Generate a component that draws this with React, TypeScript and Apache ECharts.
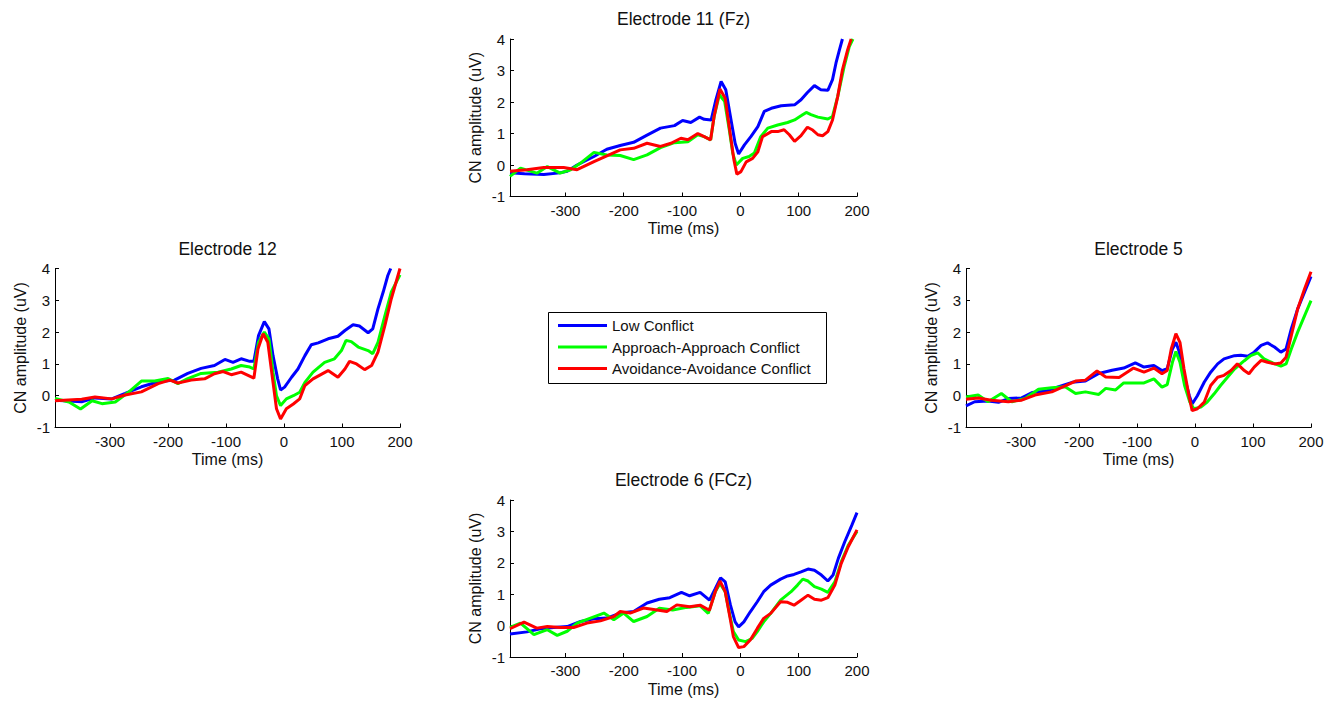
import React, { useEffect, useRef } from 'react';
import * as echarts from 'echarts';

type Pt = [number, number];

// Condition names and their trace colours
const seriesNames = ['Low Conflict', 'Approach-Approach Conflict', 'Avoidance-Avoidance Conflict'];
const seriesColors = ['#0000ff', '#00ff00', '#ff0000'];

// Axis ticks
const timeTicks = [-300, -200, -100, 0, 100, 200];
const timeMin = -395;
const timeMax = 200;
const ampMin = -1;
const ampMax = 4;

const panelTitles = ['Electrode 11 (Fz)', 'Electrode 12', 'Electrode 5', 'Electrode 6 (FCz)'];

// Electrode 11 (Fz): [time ms, amplitude uV]
const fzLow: Pt[] = [[-395,-0.25],[-370,-0.28],[-337,-0.3],[-310,-0.25],[-297,-0.2],[-280,0],[-251,0.27],[-229,0.5],[-206,0.62],[-183,0.72],[-160,0.95],[-137,1.17],[-113,1.25],[-99,1.41],[-85,1.35],[-70,1.52],[-62,1.45],[-50,1.43],[-42,2.07],[-33,2.65],[-25,2.39],[-16,1.43],[-9,0.69],[-3,0.35],[7,0.64],[18,0.9],[30,1.22],[41,1.7],[53,1.8],[70,1.88],[93,1.91],[104,2.07],[115,2.3],[127,2.52],[138,2.39],[150,2.37],[158,2.71],[164,3.24],[170,3.66],[175,4.0]];
const fzApproach: Pt[] = [[-395,-0.36],[-377,-0.1],[-349,-0.26],[-331,-0.05],[-309,-0.26],[-291,-0.15],[-274,0.06],[-251,0.4],[-229,0.32],[-206,0.3],[-183,0.17],[-160,0.32],[-137,0.55],[-113,0.71],[-90,0.74],[-73,0.96],[-62,0.9],[-51,0.8],[-45,1.54],[-36,2.23],[-27,2.02],[-19,1.12],[-13,0.37],[-7,0],[4,0.21],[15,0.27],[24,0.38],[35,0.9],[47,1.17],[64,1.27],[81,1.35],[93,1.43],[104,1.56],[113,1.67],[121,1.6],[133,1.52],[150,1.46],[158,1.54],[167,2.18],[178,3.13],[187,3.77],[193,4.0]];
const fzAvoid: Pt[] = [[-395,-0.2],[-366,-0.15],[-337,-0.08],[-303,-0.08],[-280,-0.15],[-251,0.11],[-229,0.29],[-206,0.48],[-183,0.53],[-160,0.69],[-137,0.59],[-119,0.69],[-102,0.85],[-90,0.8],[-73,1.0],[-62,0.9],[-51,0.8],[-45,1.54],[-35,2.41],[-26,2.12],[-19,1.2],[-11,0.16],[-6,-0.29],[1,-0.21],[10,0.1],[21,0.21],[30,0.42],[38,0.9],[53,1.06],[64,1.06],[75,1.12],[84,0.96],[93,0.75],[104,0.93],[115,1.2],[124,1.11],[133,0.96],[141,0.93],[150,1.06],[158,1.43],[167,2.18],[175,3.02],[184,3.66],[190,4.0]];

// Electrode 12
const e12Low: Pt[] = [[-395,-0.14],[-349,-0.19],[-326,-0.07],[-297,-0.1],[-274,0.07],[-246,0.28],[-217,0.44],[-189,0.49],[-166,0.7],[-143,0.86],[-120,0.95],[-102,1.14],[-88,1.05],[-74,1.16],[-59,1.08],[-52,1.08],[-44,1.89],[-34,2.33],[-26,2.1],[-19,1.26],[-11,0.53],[-6,0.18],[1,0.27],[13,0.58],[24,0.84],[36,1.26],[47,1.6],[59,1.66],[76,1.79],[93,1.87],[105,2.05],[119,2.23],[130,2.19],[145,1.98],[153,2.1],[162,2.73],[171,3.26],[179,3.78],[184,4.0]];
const e12Approach: Pt[] = [[-395,-0.09],[-371,-0.2],[-351,-0.42],[-331,-0.16],[-314,-0.25],[-291,-0.2],[-269,0.1],[-246,0.46],[-223,0.46],[-200,0.54],[-183,0.38],[-166,0.54],[-143,0.7],[-114,0.74],[-91,0.84],[-74,0.95],[-59,0.9],[-52,0.84],[-44,1.68],[-34,2.0],[-26,1.79],[-19,0.74],[-13,0.0],[-6,-0.31],[4,-0.1],[16,0],[27,0.11],[36,0.42],[50,0.74],[70,1.05],[87,1.16],[99,1.42],[107,1.74],[116,1.7],[128,1.53],[145,1.42],[153,1.32],[162,1.68],[174,2.52],[185,3.26],[200,3.8]];
const e12Avoid: Pt[] = [[-395,-0.16],[-349,-0.11],[-326,-0.04],[-297,-0.1],[-274,0.02],[-246,0.12],[-217,0.38],[-197,0.49],[-183,0.4],[-160,0.49],[-137,0.53],[-120,0.69],[-105,0.76],[-91,0.66],[-74,0.74],[-62,0.64],[-52,0.55],[-45,1.47],[-36,1.95],[-28,1.68],[-19,0.42],[-13,-0.41],[-6,-0.73],[4,-0.41],[16,-0.26],[27,-0.1],[36,0.32],[50,0.53],[61,0.64],[76,0.79],[93,0.58],[105,0.84],[113,1.08],[125,1.0],[139,0.82],[151,0.95],[162,1.37],[174,2.21],[185,3.05],[200,4.0]];

// Electrode 5
const e5Low: Pt[] = [[-395,-0.32],[-380,-0.19],[-357,-0.17],[-339,-0.21],[-322,-0.09],[-299,-0.07],[-281,0.1],[-258,0.14],[-235,0.28],[-212,0.42],[-189,0.46],[-166,0.7],[-143,0.8],[-123,0.87],[-103,1.03],[-88,0.9],[-71,0.95],[-57,0.79],[-48,0.85],[-39,1.47],[-33,1.68],[-28,1.42],[-19,0.64],[-10,0.01],[-5,-0.26],[4,0],[16,0.43],[27,0.74],[39,1.0],[50,1.16],[68,1.26],[79,1.27],[91,1.24],[102,1.37],[114,1.58],[125,1.66],[137,1.53],[148,1.37],[157,1.47],[166,2.1],[177,2.73],[189,3.26],[200,3.75]];
const e5Approach: Pt[] = [[-395,-0.04],[-374,0.02],[-357,-0.19],[-334,0.07],[-316,-0.19],[-293,-0.09],[-270,0.2],[-247,0.25],[-224,0.28],[-206,0.07],[-189,0.12],[-166,0.04],[-154,0.23],[-137,0.18],[-123,0.4],[-106,0.4],[-88,0.4],[-71,0.53],[-57,0.27],[-48,0.35],[-39,1.05],[-33,1.39],[-26,1.05],[-18,0.32],[-9,-0.2],[-2,-0.41],[10,-0.36],[21,-0.2],[33,0.06],[44,0.32],[56,0.58],[68,0.84],[85,1.1],[96,1.26],[108,1.35],[119,1.16],[134,1.03],[148,0.93],[157,1.0],[166,1.47],[177,2.0],[189,2.52],[200,2.99]];
const e5Avoid: Pt[] = [[-395,-0.11],[-374,-0.07],[-351,-0.14],[-322,-0.19],[-299,-0.14],[-276,0.02],[-247,0.12],[-224,0.31],[-206,0.46],[-189,0.49],[-169,0.78],[-154,0.59],[-131,0.57],[-106,0.87],[-88,0.74],[-71,0.87],[-57,0.69],[-48,0.79],[-41,1.47],[-33,1.95],[-26,1.68],[-19,0.84],[-10,-0.05],[-5,-0.47],[4,-0.41],[16,-0.2],[27,0.32],[39,0.58],[50,0.64],[62,0.79],[73,1.0],[85,0.79],[93,0.69],[102,0.9],[114,1.11],[125,1.05],[137,1.0],[148,1.03],[157,1.21],[166,1.89],[177,2.73],[189,3.36],[200,3.9]];

// Electrode 6 (FCz)
const fczLow: Pt[] = [[-395,-0.27],[-366,-0.2],[-343,-0.1],[-320,-0.06],[-297,-0.03],[-274,0.13],[-251,0.22],[-229,0.24],[-206,0.4],[-183,0.45],[-160,0.72],[-139,0.84],[-121,0.89],[-101,1.06],[-87,0.95],[-69,1.06],[-53,0.81],[-43,1.18],[-34,1.52],[-26,1.39],[-17,0.65],[-9,0.12],[-3,-0.04],[6,0.12],[17,0.44],[29,0.76],[40,1.08],[52,1.29],[69,1.48],[81,1.58],[92,1.63],[104,1.71],[116,1.8],[127,1.76],[139,1.61],[150,1.42],[159,1.61],[168,2.14],[179,2.67],[191,3.19],[200,3.6]];
const fczApproach: Pt[] = [[-395,-0.06],[-377,0.08],[-354,-0.29],[-331,-0.13],[-314,-0.31],[-297,-0.18],[-280,0.08],[-257,0.24],[-234,0.4],[-217,0.19],[-200,0.4],[-183,0.13],[-160,0.29],[-139,0.55],[-116,0.5],[-92,0.58],[-69,0.63],[-55,0.39],[-43,1.08],[-35,1.34],[-26,1.08],[-18,0.33],[-12,-0.19],[-3,-0.46],[9,-0.51],[20,-0.41],[29,-0.19],[40,0.12],[52,0.39],[69,0.81],[87,1.08],[98,1.29],[107,1.48],[116,1.42],[127,1.24],[139,1.16],[150,1.06],[162,1.39],[173,2.03],[185,2.56],[200,3.0]];
const fczAvoid: Pt[] = [[-395,-0.1],[-371,0.11],[-349,-0.08],[-331,-0.03],[-309,-0.06],[-286,-0.06],[-263,0.08],[-240,0.15],[-217,0.29],[-206,0.45],[-189,0.4],[-166,0.56],[-143,0.5],[-126,0.45],[-109,0.66],[-87,0.6],[-69,0.65],[-53,0.49],[-43,1.08],[-35,1.42],[-26,1.08],[-17,0.18],[-12,-0.35],[-3,-0.7],[6,-0.67],[17,-0.46],[29,-0.09],[40,0.23],[52,0.39],[69,0.76],[81,0.74],[92,0.65],[104,0.81],[116,0.97],[127,0.84],[139,0.81],[150,0.89],[162,1.29],[173,1.98],[185,2.51],[200,3.05]];

const panelData: Pt[][][] = [
  [fzLow, fzApproach, fzAvoid],
  [e12Low, e12Approach, e12Avoid],
  [e5Low, e5Approach, e5Avoid],
  [fczLow, fczApproach, fczAvoid],
];

// Plot-area boxes (px) for the four electrodes
const panelBoxes = [
  { left: 510, top: 39, width: 347, height: 157.5 },
  { left: 55, top: 268.5, width: 345, height: 159 },
  { left: 966, top: 268.5, width: 345, height: 159 },
  { left: 510, top: 500, width: 347, height: 157 },
];

const FONT = '"Liberation Sans", Arial, Helvetica, sans-serif';
const INK = '#111';

function buildOption(): echarts.EChartsCoreOption {
  const grid = panelBoxes.map((b) => ({ ...b, containLabel: false, outerBoundsMode: 'none' }));

  const xAxis = panelBoxes.map((_, i) => ({
    gridIndex: i,
    type: 'value',
    min: timeMin,
    max: timeMax,
    name: 'Time (ms)',
    nameLocation: 'middle',
    nameGap: 24,
    nameTextStyle: { fontSize: 16, fontFamily: FONT, color: INK },
    axisLine: { show: true, onZero: false, lineStyle: { color: '#000', width: 1 } },
    axisTick: { show: true, inside: true, length: 4, customValues: timeTicks, lineStyle: { color: '#000' } },
    axisLabel: { customValues: timeTicks, margin: 6, fontSize: 15, fontFamily: FONT, color: INK },
    splitLine: { show: false },
  }));

  const yAxis = panelBoxes.map((_, i) => ({
    gridIndex: i,
    type: 'value',
    min: ampMin,
    max: ampMax,
    interval: 1,
    name: 'CN amplitude (uV)',
    nameLocation: 'middle',
    nameGap: 27,
    nameTextStyle: { fontSize: 16, fontFamily: FONT, color: INK },
    axisLine: { show: true, onZero: false, lineStyle: { color: '#000', width: 1 } },
    axisTick: { show: true, inside: true, length: 4, lineStyle: { color: '#000' } },
    axisLabel: { margin: 5, fontSize: 15, fontFamily: FONT, color: INK },
    splitLine: { show: false },
  }));

  const series: any[] = [];
  panelData.forEach((traces, i) => {
    traces.forEach((data, j) => {
      series.push({
        type: 'line',
        name: seriesNames[j],
        xAxisIndex: i,
        yAxisIndex: i,
        data,
        symbol: 'none',
        showSymbol: false,
        clip: true,
        silent: true,
        z: 2 + j,
        lineStyle: { width: 3, color: seriesColors[j] },
        itemStyle: { color: seriesColors[j] },
      });
    });
  });

  const titles = panelBoxes.map((b, i) => ({
    type: 'text',
    x: b.left + b.width / 2,
    y: b.top - 20,
    style: {
      text: panelTitles[i],
      fontSize: 17.5,
      fontFamily: FONT,
      fill: INK,
      align: 'center',
      verticalAlign: 'middle',
      textAlign: 'center',
      textVerticalAlign: 'middle',
    },
  }));

  return {
    animation: false,
    backgroundColor: '#fff',
    color: seriesColors,
    grid,
    xAxis,
    yAxis,
    series,
    legend: {
      data: seriesNames,
      orient: 'vertical',
      left: 558,
      top: 315,
      padding: 0,
      itemWidth: 49,
      itemHeight: 3,
      itemGap: 0.5,
      icon: 'rect',
      selectedMode: false,
      z: 10,
      textStyle: { fontSize: 15, lineHeight: 21, fontFamily: FONT, color: INK },
    },
    graphic: [
      {
        type: 'rect',
        z: 1,
        shape: { x: 548.5, y: 312.5, width: 278, height: 71 },
        style: { fill: 'none', stroke: '#000', lineWidth: 1 },
      },
      ...titles,
    ],
  };
}

export default function App() {
  const ref = useRef<HTMLDivElement>(null);

  useEffect(() => {
    if (!ref.current) return;
    const chart = echarts.init(ref.current, undefined, { renderer: 'svg' });
    chart.setOption(buildOption());
    return () => chart.dispose();
  }, []);

  return (
    <div
      ref={ref}
      style={{ position: 'absolute', left: 0, top: 0, width: '1340px', height: '701px', background: '#fff' }}
    />
  );
}
